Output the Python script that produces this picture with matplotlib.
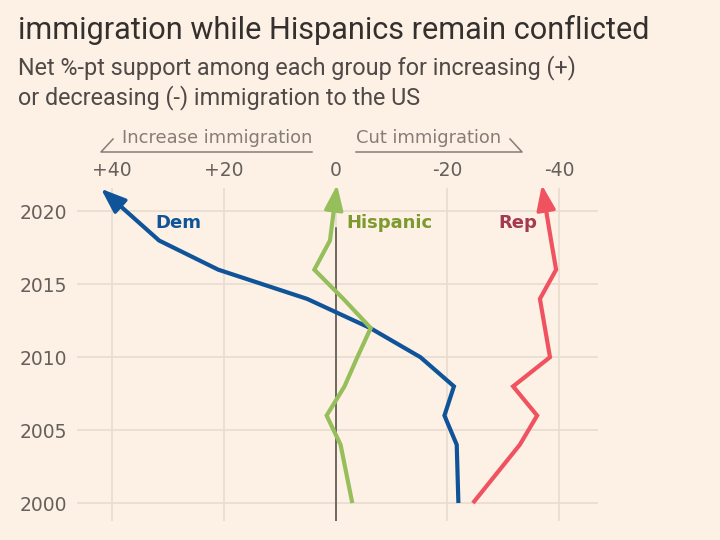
import matplotlib
matplotlib.use("Agg")
import matplotlib.pyplot as plt
from matplotlib.lines import Line2D
import numpy as np

years = [2000, 2004, 2006, 2008, 2010, 2012, 2014, 2016, 2018, 2021]
dem = [-22, -21.7, -19.5, -21.2, -15.2, -6.2, 5.1, 21, 31.6, 40.4]
hispanic = [-3, -0.9, 1.6, -1.6, -3.9, -6.3, -1.4, 3.8, 1, 0]
rep = [-24.6, -33, -36.1, -31.8, -38.4, -37.5, -36.6, -39.5, -38.6, -37.3]

xticks = [40, 20, 0, -20, -40]
xticklabels = ["+40", "+20", "0", "-20", "-40"]
yticks = [2000, 2005, 2010, 2015, 2020]

BG = "#fdf0e5"
GRID = "#e8dbd0"
TXT = "#66605c"
title_font = ["Roboto", "DejaVu Sans"]

fig = plt.figure(figsize=(7.2, 5.4), dpi=100, facecolor=BG)
ax = fig.add_axes([77 / 720, 1 - 521 / 540, 521 / 720, 333 / 540])
ax.set_facecolor(BG)

ax.set_xlim(46.3, -47.0)
ax.set_ylim(1998.77, 2021.6)

for s in ax.spines.values():
    s.set_visible(False)
ax.xaxis.tick_top()
ax.set_xticks(xticks)
ax.set_xticklabels(xticklabels)
ax.set_yticks(yticks)
ax.tick_params(length=0, labelsize=13.5, labelcolor=TXT, pad=7)
ax.tick_params(axis="x", pad=6)
ax.grid(True, color=GRID, lw=1.2)
ax.set_axisbelow(True)

ax.axvline(0, ymin=0, ymax=0.88, color="#4d4845", lw=1.1, zorder=2)


def draw(vals, color):
    ax.plot(vals, years, color=color, lw=3, solid_joinstyle="miter",
            solid_capstyle="butt", zorder=3, clip_on=False)
    # arrowhead at the end, extended along the last segment
    p0 = ax.transData.transform((vals[-2], years[-2]))
    p1 = ax.transData.transform((vals[-1], years[-1]))
    d = (p1 - p0) / np.hypot(*(p1 - p0))
    tip = ax.transData.inverted().transform(p1 + d * 12)
    ax.annotate("", xy=tip, xytext=(vals[-1], years[-1]),
                arrowprops=dict(arrowstyle="-|>,head_length=0.85,head_width=0.32",
                                color=color, lw=2.5, shrinkA=0, shrinkB=0,
                                mutation_scale=18),
                zorder=4, annotation_clip=False)


draw(dem, "#0f5499")
draw(hispanic, "#96bf5c")
draw(rep, "#f0525f")

ax.text(28.2, 2019.2, "Dem", color="#0f5499", fontsize=13, fontweight="bold",
        ha="center", va="center")
ax.text(-2.0, 2019.2, "Hispanic", color="#7d9a2e", fontsize=13,
        fontweight="bold", ha="left", va="center")
ax.text(-32.7, 2019.2, "Rep", color="#a33a50", fontsize=13, fontweight="bold",
        ha="center", va="center")

# titles
fig.text(18 / 720, 1 - 30 / 540, "immigration while Hispanics remain conflicted",
         family=title_font, fontsize=22.1, color="#33302e", va="center", ha="left")
fig.text(18 / 720, 1 - 68 / 540,
         "Net %-pt support among each group for increasing (+)",
         family=title_font, fontsize=16.8, color="#4f4a47", va="center", ha="left")
fig.text(18 / 720, 1 - 98 / 540, "or decreasing (-) immigration to the US",
         family=title_font, fontsize=16.8, color="#4f4a47", va="center", ha="left")

# direction headers
HC = "#857d77"
fig.text(122 / 720, 1 - 138 / 540, "Increase immigration", fontsize=12.9,
         color=HC, va="center", ha="left")
fig.text(356 / 720, 1 - 138 / 540, "Cut immigration", fontsize=12.9,
         color=HC, va="center", ha="left")
for xs, ys in [([113, 101, 312], [139, 152, 152]),
               ([356, 522, 510], [152, 152, 139])]:
    fig.add_artist(Line2D([x / 720 for x in xs], [1 - y / 540 for y in ys],
                          color=HC, lw=1.1, transform=fig.transFigure))

fig.savefig("out.png", dpi=100, facecolor=BG)
